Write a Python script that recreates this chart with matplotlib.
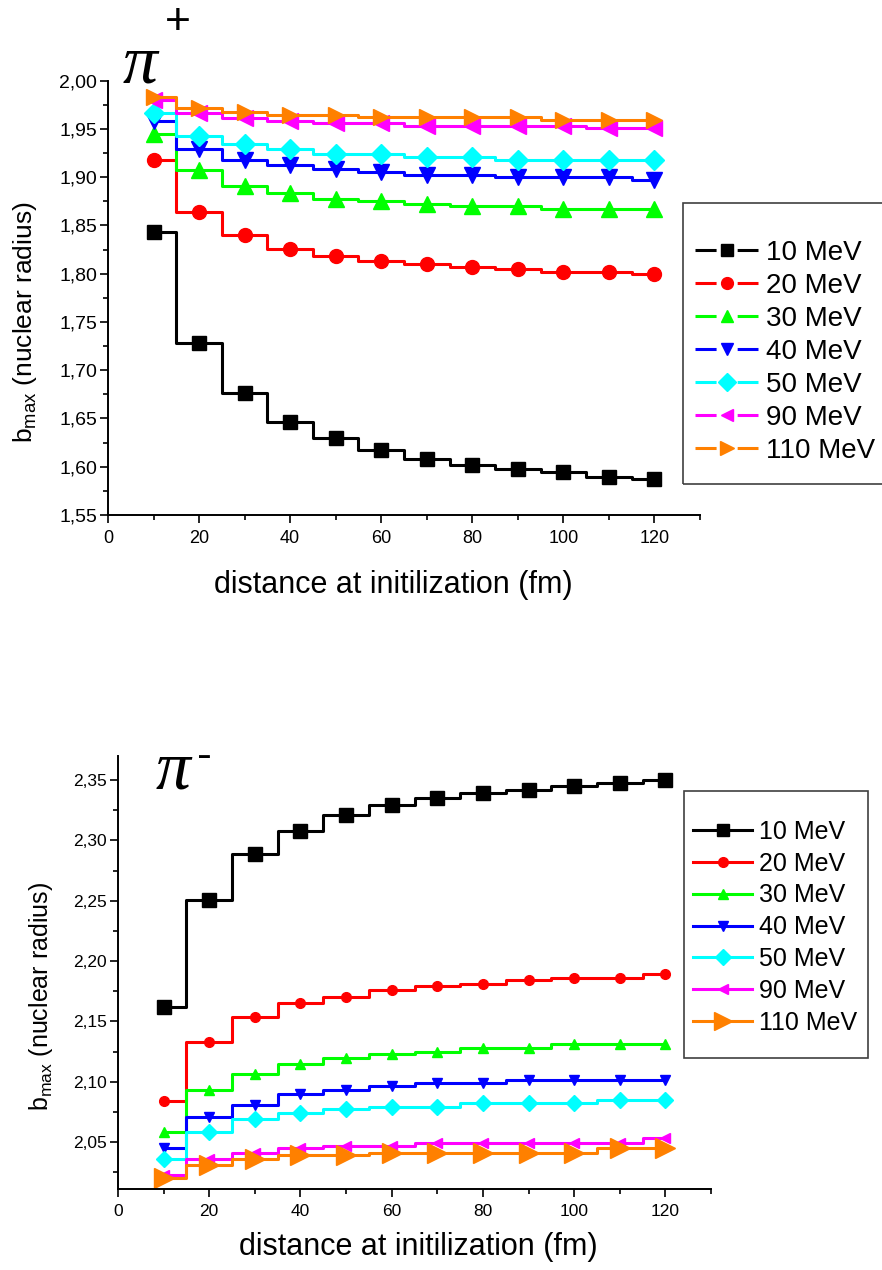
import matplotlib
matplotlib.use('Agg')
import matplotlib.pyplot as plt
from matplotlib.lines import Line2D
from matplotlib.patches import Rectangle
from matplotlib.ticker import MultipleLocator, FuncFormatter

plt.rcParams['font.family'] = ['Liberation Sans', 'DejaVu Sans']
plt.rcParams['mathtext.fontset'] = 'custom'
plt.rcParams['mathtext.rm'] = 'Liberation Sans'
plt.rcParams['mathtext.it'] = 'Liberation Sans:italic'

# distance at initialization (fm)
distance = [10, 20, 30, 40, 50, 60, 70, 80, 90, 100, 110, 120]
energies = ['10 MeV', '20 MeV', '30 MeV', '40 MeV', '50 MeV', '90 MeV', '110 MeV']
colors = ['#000000', '#ff0000', '#00ff00', '#0000ff', '#00ffff', '#ff00ff', '#ff8000']
markers = ['s', 'o', '^', 'v', 'D', '<', '>']

# b_max for pi+
piplus_10 = [1.843, 1.728, 1.676, 1.646, 1.630, 1.617, 1.608, 1.602, 1.598, 1.595, 1.589, 1.587]
piplus_20 = [1.918, 1.864, 1.840, 1.826, 1.818, 1.813, 1.810, 1.807, 1.805, 1.802, 1.802, 1.800]
piplus_30 = [1.945, 1.907, 1.891, 1.884, 1.877, 1.875, 1.872, 1.870, 1.870, 1.867, 1.867, 1.867]
piplus_40 = [1.958, 1.929, 1.918, 1.913, 1.908, 1.905, 1.902, 1.902, 1.900, 1.900, 1.900, 1.897]
piplus_50 = [1.967, 1.943, 1.934, 1.929, 1.924, 1.924, 1.921, 1.921, 1.918, 1.918, 1.918, 1.918]
piplus_90 = [1.980, 1.967, 1.961, 1.958, 1.956, 1.956, 1.953, 1.953, 1.953, 1.953, 1.951, 1.951]
piplus_110 = [1.983, 1.972, 1.968, 1.964, 1.964, 1.962, 1.962, 1.962, 1.962, 1.959, 1.959, 1.959]

# b_max for pi-
piminus_10 = [2.162, 2.251, 2.289, 2.308, 2.321, 2.329, 2.335, 2.339, 2.342, 2.345, 2.348, 2.350]
piminus_20 = [2.084, 2.133, 2.154, 2.165, 2.170, 2.176, 2.179, 2.181, 2.184, 2.186, 2.186, 2.189]
piminus_30 = [2.058, 2.093, 2.106, 2.115, 2.120, 2.123, 2.125, 2.128, 2.128, 2.131, 2.131, 2.131]
piminus_40 = [2.045, 2.071, 2.081, 2.090, 2.093, 2.096, 2.099, 2.099, 2.101, 2.101, 2.101, 2.101]
piminus_50 = [2.036, 2.058, 2.069, 2.074, 2.077, 2.079, 2.079, 2.082, 2.082, 2.082, 2.085, 2.085]
piminus_90 = [2.023, 2.036, 2.041, 2.045, 2.047, 2.047, 2.049, 2.049, 2.049, 2.049, 2.049, 2.053]
piminus_110 = [2.020, 2.031, 2.036, 2.039, 2.039, 2.041, 2.041, 2.041, 2.041, 2.041, 2.045, 2.045]

piplus = [piplus_10, piplus_20, piplus_30, piplus_40, piplus_50, piplus_90, piplus_110]
piminus = [piminus_10, piminus_20, piminus_30, piminus_40, piminus_50, piminus_90, piminus_110]

ms_top = [9.5, 10, 11, 11, 10.5, 11, 11.5]
ms_bottom = [9.5, 7, 7.5, 7.5, 8, 7.5, 14]
ms_bottom_legend = [8, 7, 7.5, 7.5, 8, 7.5, 13]

W, H = 882, 1270
fig = plt.figure(figsize=(W / 100, H / 100), dpi=100)


def px(x, y):
    return x / W, 1 - y / H


def comma(v, pos):
    return ('%.2f' % v).replace('.', ',')


def style_axes(ax, ylo, yhi, ytick_size, xtick_size):
    ax.set_xlim(0, 130)
    ax.set_ylim(ylo, yhi)
    for s in ['top', 'right']:
        ax.spines[s].set_visible(False)
    for s in ['left', 'bottom']:
        ax.spines[s].set_linewidth(1.4)
    ax.xaxis.set_major_locator(MultipleLocator(20))
    ax.xaxis.set_minor_locator(MultipleLocator(10))
    ax.yaxis.set_major_locator(MultipleLocator(0.05))
    ax.yaxis.set_minor_locator(MultipleLocator(0.025))
    ax.yaxis.set_major_formatter(FuncFormatter(comma))
    ax.tick_params(which='major', direction='out', length=6, width=1.2)
    ax.tick_params(which='minor', direction='out', length=3.5, width=1.2)
    ax.tick_params(axis='y', labelsize=ytick_size, pad=2)
    ax.tick_params(axis='x', labelsize=xtick_size, pad=5)


# pi+ panel
ax1 = fig.add_axes([108 / W, 1 - 515 / H, 592 / W, (515 - 80.7) / H])
for vals, c, m, ms in zip(piplus, colors, markers, ms_top):
    ax1.plot(distance, vals, drawstyle='steps-mid', color=c, lw=2.2,
             marker=m, ms=ms, mec=c, mfc=c)
style_axes(ax1, 1.55, 2.00, 14, 13)

# pi- panel
ax2 = fig.add_axes([118 / W, 1 - 1189 / H, 593 / W, (1189 - 756) / H])
for vals, c, m, ms in zip(piminus, colors, markers, ms_bottom):
    ax2.plot(distance, vals, drawstyle='steps-mid', color=c, lw=2.2,
             marker=m, ms=ms, mec=c, mfc=c)
style_axes(ax2, 2.011, 2.37, 12.5, 12.5)

# axis titles
fig.text(*px(393, 585), 'distance at initilization (fm)', fontsize=22,
         ha='center', va='center')
fig.text(*px(418, 1247), 'distance at initilization (fm)', fontsize=22,
         ha='center', va='center')
fig.text(*px(25, 322), r'b$_{\mathrm{max}}$ (nuclear radius)', fontsize=19,
         rotation=90, ha='center', va='center')
fig.text(*px(41, 996), r'b$_{\mathrm{max}}$ (nuclear radius)', fontsize=18,
         rotation=90, ha='center', va='center')

# particle labels
fig.text(*px(140, 66), '\u03c0', fontsize=50, family='Liberation Serif',
         style='italic', ha='center', va='center')
fig.text(*px(178, 22), '+', fontsize=32, ha='center', va='center')
fig.text(*px(173, 772), '\u03c0', fontsize=50, family='Liberation Serif',
         style='italic', ha='center', va='center')
fig.text(*px(204, 756), '-', fontsize=32, ha='center', va='center')

# legend for pi+ (line broken around the marker)
handles_top = [Line2D([], [], color=c, lw=2.2, marker=m, ms=ms * 0.85, mec=c, mfc=c,
                      linestyle=(0, (6.9, 6.9)))
               for c, m, ms in zip(colors, markers, ms_top)]
fig.patches.append(Rectangle(px(683, 484), (900 - 683) / W, (484 - 203) / H,
                             transform=fig.transFigure, fill=False,
                             edgecolor='#404040', lw=1.2))
fig.legend(handles_top, energies, loc='upper left', bbox_to_anchor=px(695, 240),
           frameon=False, fontsize=20, handlelength=2.27, handletextpad=0.3,
           labelspacing=0.25, borderpad=0, borderaxespad=0, numpoints=1)

# legend for pi-
handles_bot = [Line2D([], [], color=c, lw=2.2, marker=m, ms=ms, mec=c, mfc=c)
               for c, m, ms in zip(colors, markers, ms_bottom_legend)]
fig.patches.append(Rectangle(px(684, 1058), (868 - 684) / W, (1058 - 791) / H,
                             transform=fig.transFigure, fill=False,
                             edgecolor='#404040', lw=1.2))
fig.legend(handles_bot, energies, loc='upper left', bbox_to_anchor=px(693, 820),
           frameon=False, fontsize=18, handlelength=2.36, handletextpad=0.28,
           labelspacing=0.31, borderpad=0, borderaxespad=0, numpoints=1)

fig.savefig('out.png', dpi=100)
